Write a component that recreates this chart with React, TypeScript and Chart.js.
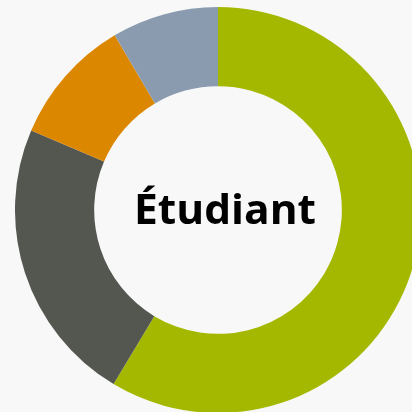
import React, { useEffect, useRef } from "react";
import { Chart, registerables } from "chart.js";

Chart.register(...registerables);

const categories = ["Catégorie A", "Catégorie B", "Catégorie C", "Catégorie D"];
const values = [58.6, 22.8, 10.1, 8.5];
const colors = ["#a5b800", "#545650", "#dc8700", "#8a9bb0"];
const centerLabel = "Étudiant";

const centerTextPlugin = {
  id: "centerText",
  afterDraw(chart: any) {
    const ctx = chart.ctx;
    const meta = chart.getDatasetMeta(0);
    const arc = meta.data[0];
    const cx = arc.x;
    const cy = arc.y;
    ctx.save();
    ctx.fillStyle = "#000000";
    ctx.textAlign = "center";
    ctx.textBaseline = "alphabetic";
    const family = "'Open Sans', 'DejaVu Sans', sans-serif";
    const size = 41;
    ctx.font = `bold ${size}px ${family}`;
    const w = ctx.measureText(centerLabel).width;
    const sx = 182 / w;
    ctx.translate(cx + 7, cy + 14);
    ctx.scale(sx, 1);
    ctx.fillText(centerLabel, 0, 0);
    ctx.restore();
  },
};

export default function App() {
  const ref = useRef<HTMLCanvasElement | null>(null);
  useEffect(() => {
    document.body.style.margin = "0";
    document.body.style.background = "#f8f8f8";
    const chart = new Chart(ref.current!, {
      type: "doughnut",
      data: {
        labels: categories,
        datasets: [
          {
            data: values,
            backgroundColor: colors,
            borderWidth: 0,
          },
        ],
      },
      options: {
        animation: false,
        responsive: false,
        maintainAspectRatio: false,
        cutout: "61%",
        layout: { padding: 0 },
        plugins: {
          legend: { display: false },
          tooltip: { enabled: false },
          title: { display: false },
        },
      },
      plugins: [centerTextPlugin],
    });
    return () => chart.destroy();
  }, []);
  return (
    <div
      style={{
        position: "relative",
        width: 412,
        height: 412,
        overflow: "hidden",
        background: "#f8f8f8",
      }}
    >
      <canvas
        ref={ref}
        width={406}
        height={406}
        style={{ position: "absolute", left: 15, top: 7, width: 406, height: 406 }}
      />
    </div>
  );
}
